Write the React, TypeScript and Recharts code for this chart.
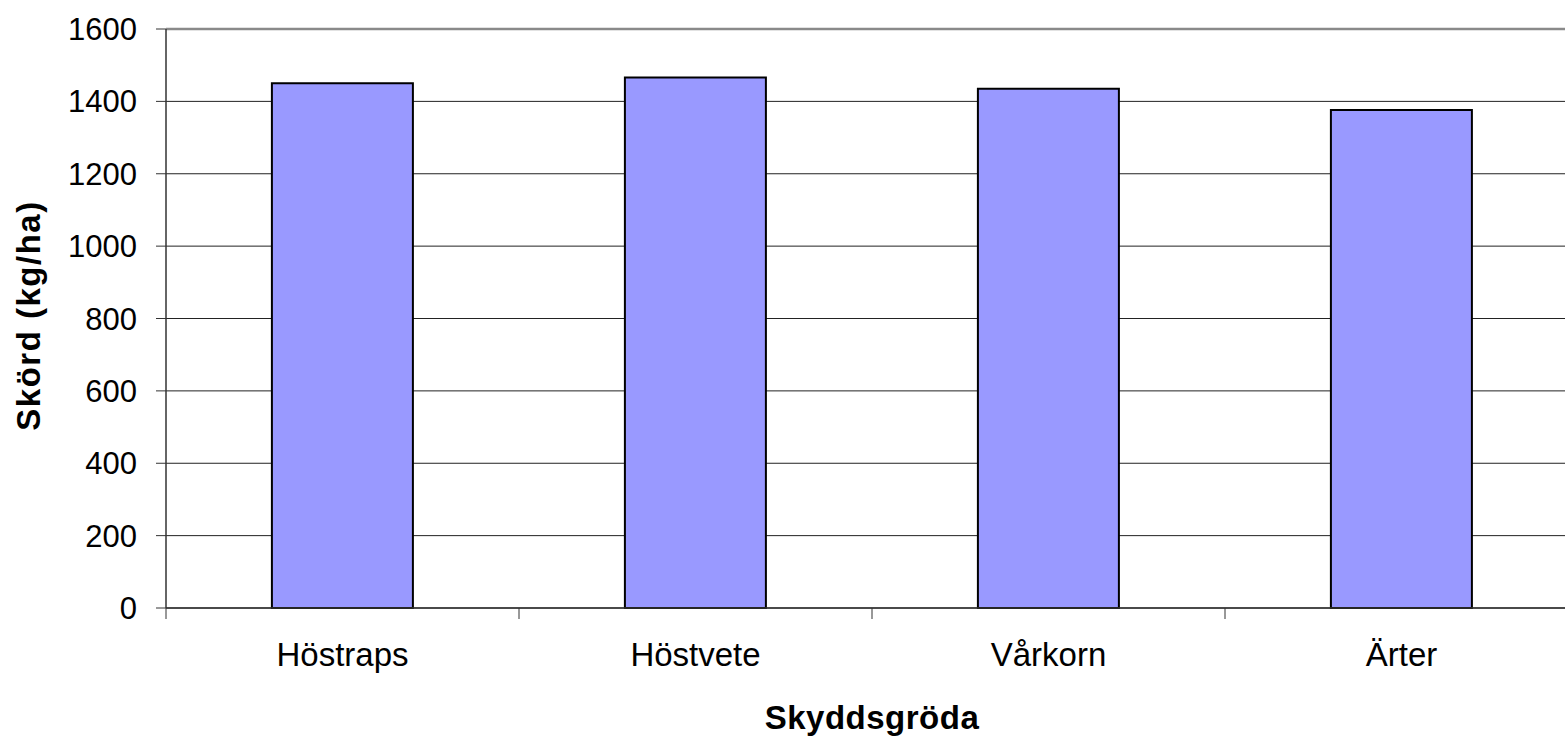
import React from 'react';
import { BarChart, Bar, XAxis, YAxis, CartesianGrid, ReferenceLine } from 'recharts';

const categories = ['Höstraps', 'Höstvete', 'Vårkorn', 'Ärter'];
const yields = [1450, 1466, 1435, 1376];
const yTicks = [0, 200, 400, 600, 800, 1000, 1200, 1400, 1600];
const xTitle = 'Skyddsgröda';
const yTitle = 'Skörd (kg/ha)';

const data = categories.map((name, i) => ({ name, value: yields[i] }));

const FONT = '"Liberation Sans", Arial, sans-serif';

const XTick = (props: any) => {
  const { x, y, payload } = props;
  const off = payload && payload.offset ? payload.offset : 0;
  return (
    <g>
      <line x1={x - off} x2={x - off} y1={y} y2={y + 11} stroke="#333" strokeWidth={1} />
      <text x={x} y={y + 35} dy="0.71em" textAnchor="middle" fontSize={33} fill="#000" fontFamily={FONT}>
        {payload.value}
      </text>
    </g>
  );
};

const XLabel = (props: any) => {
  const vb = props.viewBox || {};
  return (
    <text
      x={vb.x + vb.width / 2}
      y={vb.y + 121}
      textAnchor="middle"
      fontSize={33}
      fontWeight="bold"
      fill="#000"
      fontFamily={FONT}
      letterSpacing={0.5}
    >
      {xTitle}
    </text>
  );
};

const YLabel = (props: any) => {
  const vb = props.viewBox || {};
  const cx = 28;
  const cy = vb.y + vb.height / 2 - 3;
  return (
    <text
      x={cx}
      y={cy}
      transform={`rotate(-90 ${cx} ${cy})`}
      textAnchor="middle"
      dominantBaseline="central"
      fontSize={33}
      fontWeight="bold"
      fill="#000"
      fontFamily={FONT}
      letterSpacing={1.5}
    >
      {yTitle}
    </text>
  );
};

export default function App() {
  return (
    <div style={{ position: 'absolute', left: 0, top: 0, width: 1565, height: 739, overflow: 'hidden', background: '#fff' }}>
      <BarChart
        width={1590}
        height={739}
        data={data}
        margin={{ top: 29, right: 12, left: 0, bottom: 0 }}
        barCategoryGap="30%"
      >
        <CartesianGrid vertical={false} stroke="#222" strokeWidth={1} />
        <XAxis
          dataKey="name"
          height={131}
          tickLine={false}
          tickSize={0}
          tickMargin={0}
          axisLine={{ stroke: '#333', strokeWidth: 1.5 }}
          tick={<XTick />}
          interval={0}
          label={<XLabel />}
        />
        <YAxis
          width={166}
          domain={[0, 1600]}
          ticks={yTicks}
          interval={0}
          tickSize={10}
          tickMargin={19}
          tickLine={{ stroke: '#333' }}
          axisLine={{ stroke: '#333', strokeWidth: 1.5 }}
          tick={{ fontSize: 31, fill: '#000', fontFamily: FONT }}
          label={<YLabel />}
        />
        <ReferenceLine y={1600} stroke="#8a8a8a" strokeWidth={2.5} />
        <Bar dataKey="value" fill="#9999FF" stroke="#000" strokeWidth={2} isAnimationActive={false} />
      </BarChart>
    </div>
  );
}
